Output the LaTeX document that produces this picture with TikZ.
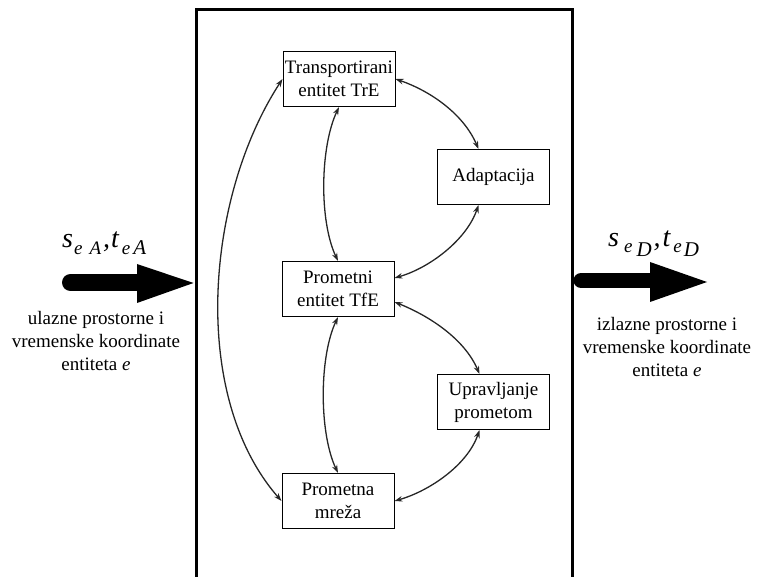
\documentclass[tikz,border=0pt]{standalone}
\usepackage{fontspec}
\setmainfont{Liberation Serif}
\usetikzlibrary{arrows.meta}
\newcommand{\bigsz}{\fontsize{28}{30}\selectfont}
\newcommand{\subsz}{\fontsize{19}{20}\selectfont}
\newcommand{\subbig}{\fontsize{21}{22}\selectfont}
\begin{document}
\begin{tikzpicture}[x=1pt,y=-1pt,
  blk/.style={draw=black, line width=1pt, minimum width=112pt, minimum height=55pt,
    inner sep=1pt, align=center, font=\fontsize{19}{23}\selectfont},
  link/.style={draw=black!85, line width=1.3pt,
    {Stealth[length=8pt,width=5.5pt]}-{Stealth[length=8pt,width=5.5pt]}},
  lbl/.style={align=center, inner sep=0pt, font=\fontsize{19}{23}\selectfont},
  frame/.style={draw=black, line width=3pt},
  fat/.style={fill=black}]
\useasboundingbox (0,0) rectangle (761,577);

% outer frame (open at the bottom)
\draw[frame] (196,582) -- (196,10) -- (572,10) -- (572,582);

% blocks
\node[blk] (tre)   at (339,79)    {Transportirani\\entitet TrE};
\node[blk] (adapt) at (493.5,177) {Adaptacija};
\node[blk] (tfe)   at (338,289)   {Prometni\\entitet TfE};
\node[blk] (uprav) at (493.5,402) {Upravljanje\\prometom};
\node[blk] (mreza) at (338,501)   {Prometna\\mreža};

% connectors
\draw[link] (mreza.west) .. controls +(-92,-105) and +(-77,118) .. (tre.west);
\draw[link] (tre.south) .. controls +(-19,40) and +(-19,-40) .. (tfe.north);
\draw[link] (tfe.south) .. controls +(-19,40) and +(-19,-40) .. (mreza.north);
\draw[link] (tre.east) .. controls +(35,12) and +(-15,-35) .. ([xshift=-15pt]adapt.north);
\draw[link] ([xshift=-15pt]adapt.south) .. controls +(-12,35) and +(35,-10) .. ([yshift=11pt]tfe.east);
\draw[link] ([yshift=-13pt]tfe.east) .. controls +(35,14) and +(-15,-35) .. ([xshift=-14pt]uprav.north);
\draw[link] ([xshift=-14pt]uprav.south) .. controls +(-12,35) and +(35,-10) .. (mreza.east);

% big input arrow
\draw[line width=17pt, line cap=round] (70.5,282.5) -- (140,282.5);
\fill[fat] (137,264) -- (193.5,283) -- (137,303) -- cycle;
% big output arrow
\draw[line width=15pt, line cap=round] (581,280.5) -- (653,280.5);
\fill[fat] (650,262) -- (707,282) -- (650,302) -- cycle;
\draw[frame] (572,250) -- (572,320);

% coordinate labels
\node[anchor=base west, inner sep=0pt] (inlbl) at (62,248)
  {\bigsz\itshape s\hspace{1pt}\raisebox{-7pt}{\subsz e\hspace{7pt}A}\hspace{2pt},\hspace{1pt}t\hspace{3pt}\raisebox{-7pt}{\subsz e\hspace{3pt}\subbig A}};
\node[anchor=base west, inner sep=0pt] (outlbl) at (608,247)
  {\bigsz\itshape s\hspace{5pt}\raisebox{-6pt}{\subsz e\hspace{4pt}\raisebox{-4pt}{\subbig D}}\hspace{2pt},\hspace{2pt}t\hspace{3pt}\raisebox{-6pt}{\subsz e\hspace{2pt}\raisebox{-4pt}{\subbig D}}};

\node[lbl] (intext)  at (96,341)  {ulazne prostorne i\\vremenske koordinate\\entiteta \textit{e}};
\node[lbl] (outtext) at (667,347) {izlazne prostorne i\\vremenske koordinate\\entiteta \textit{e}};
\end{tikzpicture}
\end{document}
